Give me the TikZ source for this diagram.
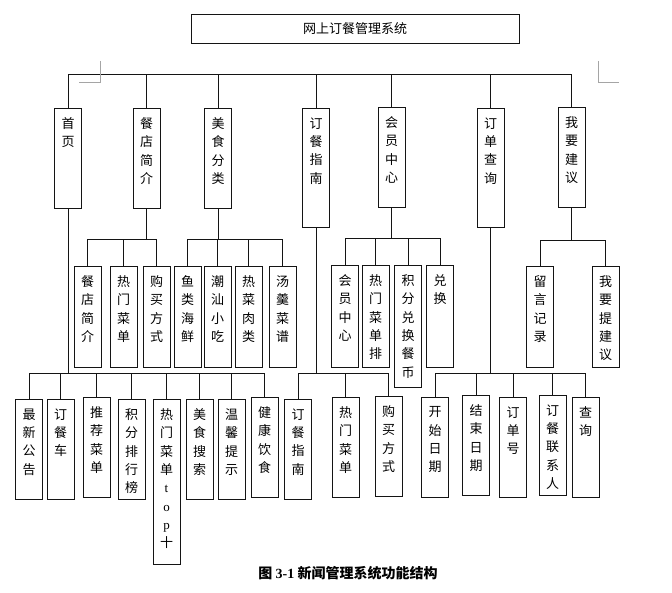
\documentclass[tikz,border=0pt]{standalone}
\usepackage{fontspec}
\setmainfont{Liberation Serif}
\newfontfamily\cjk{Noto Sans CJK SC}
\definecolor{inkline}{RGB}{20,20,20}
\definecolor{inkmark}{RGB}{165,165,165}

\begin{document}
\begin{tikzpicture}[x=1pt,y=-1pt,
  box/.style={draw=inkline,line width=0.9pt,minimum width=27,inner sep=0pt,anchor=north},
  vlab/.style={anchor=north,align=center,inner sep=0pt,yshift=-9.5,font=\cjk\fontsize{13}{18.3}\selectfont},
  link/.style={draw=inkline,line width=0.9pt}]
\useasboundingbox (0,0) rectangle (672,593);
\node[draw=inkline,line width=0.9pt,minimum width=328,minimum height=29,inner sep=0pt,
  font=\cjk\fontsize{13}{15}\selectfont] (sys) at (355,28.5) {网上订餐管理系统};
\foreach \n/\x/\y/\h/\lbl in {home/68/108/100/{首\\页},
    shop/146.5/108/100/{餐\\店\\简\\介}, food/218/108/100/{美\\食\\分\\类},
    guide/316/108/119/{订\\餐\\指\\南}, member/391.5/107/100/{会\\员\\中\\心},
    order/490.5/108/119/{订\\单\\查\\询}, advice/571.5/107/100/{我\\要\\建\\议}} {
  \node[box,minimum height=\h,label={[vlab]north:\lbl}] (\n) at (\x,\y) {};
}
\foreach \n/\x/\y/\h/\lbl in {sh1/87.5/266/101/{餐\\店\\简\\介},
    sh2/123.5/266/101/{热\\门\\菜\\单}, sh3/156.5/266/101/{购\\买\\方\\式},
    fd1/187.5/266/101/{鱼\\类\\海\\鲜}, fd2/217.5/266/101/{潮\\汕\\小\\吃},
    fd3/248.5/266/101/{热\\菜\\肉\\类}, fd4/282.5/266/101/{汤\\羹\\菜\\谱},
    mb1/345/265/102/{会\\员\\中\\心}, mb2/375.5/265/102/{热\\门\\菜\\单\\排},
    mb3/408/265/122/{积\\分\\兑\\换\\餐\\币}, mb4/440/265/102/{兑\\换},
    ad1/540/266/101/{留\\言\\记\\录}, ad2/605.5/266/101/{我\\要\\提\\建\\议}} {
  \node[box,minimum height=\h,label={[vlab]north:\lbl}] (\n) at (\x,\y) {};
}
\foreach \n/\x/\y/\h/\lbl in {hm1/29/399/100/{最\\新\\公\\告},
    hm2/60.5/399/100/{订\\餐\\车}, hm3/96.5/397/100/{推\\荐\\菜\\单},
    hm4/131.5/399/100/{积\\分\\排\\行\\榜},
    hm5/166.5/399/165/{热\\门\\菜\\单\\\textrm{t}\\\textrm{o}\\\textrm{p}\\十},
    hm6/199.5/399/100/{美\\食\\搜\\索}, hm7/231.5/399/100/{温\\馨\\提\\示},
    hm8/264.5/397/100/{健\\康\\饮\\食}, gd1/298/399/100/{订\\餐\\指\\南},
    gd2/345.5/397/100/{热\\门\\菜\\单}, gd3/388.5/396/100/{购\\买\\方\\式},
    od1/435/397/100/{开\\始\\日\\期}, od2/476/395/100/{结\\束\\日\\期},
    od3/513/397/100/{订\\单\\号}, od4/552.5/395/100/{订\\餐\\联\\系\\人},
    od5/585.5/397/100/{查\\询}} {
  \node[box,minimum height=\h,label={[vlab]north:\lbl}] (\n) at (\x,\y) {};
}
\coordinate (bus0) at (0,74);
\draw[link] (home.north) |- (bus0 -| advice) -- (advice.north);
\foreach \n in {shop,food,guide,member,order}
  \draw[link] (\n.north) -- (\n.north |- bus0);
\foreach \p/\b/\cs in {shop/239/{sh1,sh2,sh3}, food/239/{fd1,fd2,fd3,fd4},
    member/238/{mb1,mb2,mb3,mb4}, advice/240/{ad1,ad2},
    home/373/{hm1,hm2,hm3,hm4,hm5,hm6,hm7,hm8}, guide/373/{gd1,gd2,gd3},
    order/373/{od1,od2,od3,od4,od5}}
  \foreach \c in \cs
    \draw[link] (\p.south) -- (\p.south |- 0,\b) -| (\c.north);
\draw[inkmark,line width=0.8pt] (100,61) -- (100,82) -- (79,82);
\draw[inkmark,line width=0.8pt] (598,61) -- (598,82) -- (619,82);
\node[font=\cjk\bfseries\fontsize{14}{16}\selectfont] (cap) at (348,573)
  {图 \textrm{3-1} 新闻管理系统功能结构};
\end{tikzpicture}
\end{document}
